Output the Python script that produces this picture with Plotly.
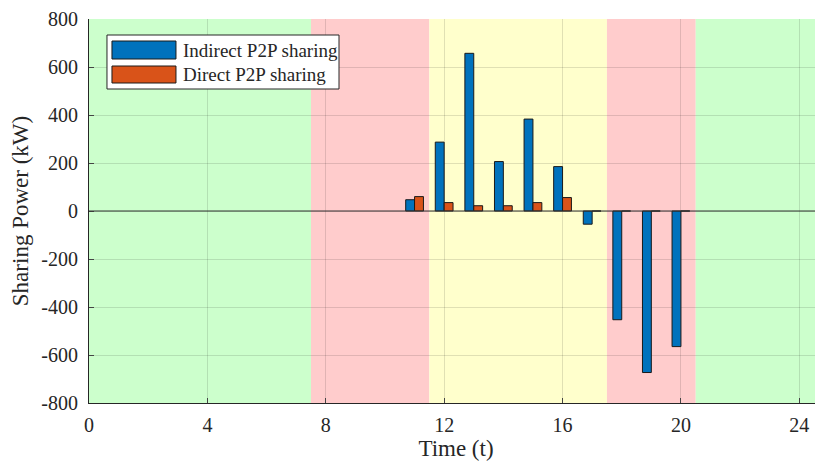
import plotly.graph_objects as go

# hourly sharing power (kW)
hours = [11, 12, 13, 14, 15, 16, 17, 18, 19, 20]
indirect = [47, 287, 657, 206, 383, 185, -55, -453, -673, -565]
direct = [60, 35, 22, 22, 35, 56, 0, 0, 0, 0]
names = ['Indirect P2P sharing', 'Direct P2P sharing']
colors = ['#0072BD', '#D95319']

# tariff periods shaded in the background: (start, end, colour)
periods = [(0, 7.5, '#CCFFCC'), (7.5, 11.5, '#FFCCCC'), (11.5, 17.5, '#FFFFCC'),
           (17.5, 20.5, '#FFCCCC'), (20.5, 26, '#CCFFCC')]

x_ticks = [0, 4, 8, 12, 16, 20, 24]
y_ticks = [-800, -600, -400, -200, 0, 200, 400, 600, 800]

fig = go.Figure()
for vals, name, col in zip([indirect, direct], names, colors):
    fig.add_bar(x=hours, y=vals, name=name, showlegend=False,
                marker=dict(color=col, line=dict(color='#1a1a1a', width=1)))

for x0, x1, col in periods:
    fig.add_shape(type='rect', xref='x', yref='paper', x0=x0, x1=x1, y0=0, y1=1,
                  fillcolor=col, line_width=0, layer='below')

# bar baseline
fig.add_shape(type='line', xref='paper', yref='y', x0=0, x1=1, y0=0, y1=0,
              line=dict(color='#333333', width=1))

# legend drawn MATLAB style (wide swatches)
fig.add_shape(type='rect', xref='paper', yref='paper', x0=0.0245, x1=0.3406,
              y0=0.8177, y1=0.9583, fillcolor='white',
              line=dict(color='#262626', width=1))
swatch_y = [(0.8958, 0.9427), (0.8333, 0.8776)]
for (y0, y1), name, col in zip(swatch_y, names, colors):
    fig.add_shape(type='rect', xref='paper', yref='paper', x0=0.0313, x1=0.1185,
                  y0=y0, y1=y1, fillcolor=col, line=dict(color='#1a1a1a', width=1))
    fig.add_annotation(xref='paper', yref='paper', x=0.1253, y=(y0 + y1) / 2,
                       text=name, showarrow=False, xanchor='left', yanchor='middle',
                       font=dict(size=19, color='#262626'))

# the page body adds an 8px margin, so the figure is shifted back by that much
font = 'Liberation Serif, Times New Roman, serif'
fig.update_layout(
    width=815, height=456,
    margin=dict(l=81, r=0, t=11, b=61, autoexpand=False),
    paper_bgcolor='white', plot_bgcolor='white',
    barmode='group', bargap=0.4, bargroupgap=0,
    font=dict(family=font, size=20, color='#262626'),
    showlegend=False,
)
fig.update_xaxes(range=[0, 24.8], tickvals=x_ticks, ticktext=[str(v) for v in x_ticks],
                 ticks='inside', ticklen=5, ticklabelstandoff=4, automargin=False,
                 showgrid=True, gridcolor='rgba(0,0,0,0.12)', zeroline=False,
                 showline=True, linecolor='#262626', linewidth=1,
                 title=dict(text='Time (t)', font=dict(size=23), standoff=2))
fig.update_yaxes(range=[-800, 800], tickvals=y_ticks, ticktext=[str(v) for v in y_ticks],
                 ticks='inside', ticklen=5, ticklabelstandoff=6, automargin=False,
                 showgrid=True, gridcolor='rgba(0,0,0,0.12)', zeroline=False,
                 showline=True, linecolor='#262626', linewidth=1,
                 title=dict(text='Sharing Power (kW)', font=dict(size=23), standoff=6))

fig.write_html('out.html')
